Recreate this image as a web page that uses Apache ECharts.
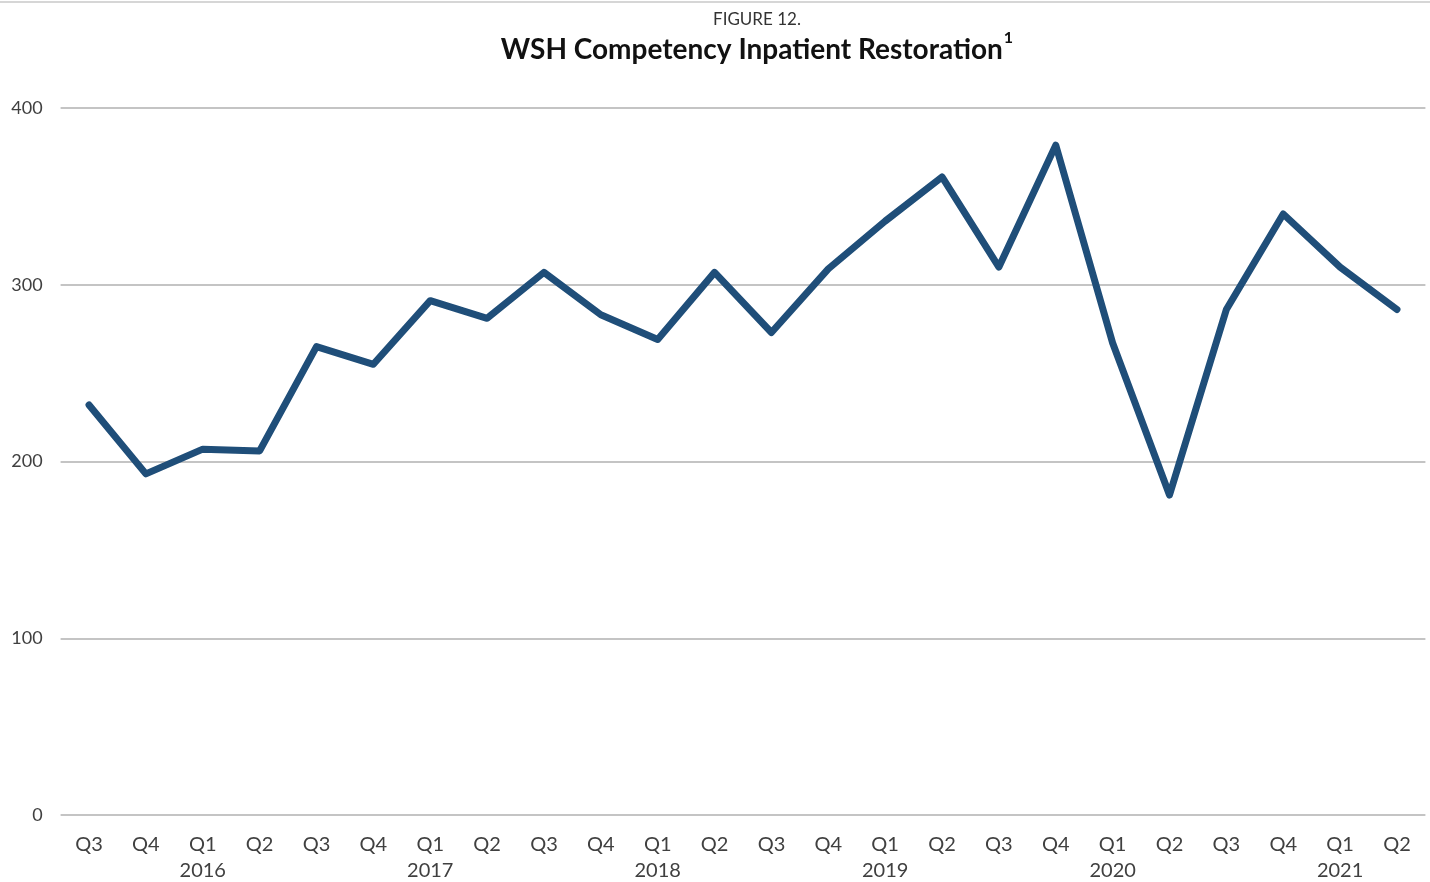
<!DOCTYPE html>
<html>
<head>
<meta charset="utf-8">
<script src="https://cdn.jsdelivr.net/npm/echarts@6/dist/echarts.min.js"></script>
<style>
html,body{margin:0;padding:0;background:#fff;}
#chart{width:1430px;height:882px;}
</style>
</head>
<body>
<div id="chart"></div>
<script>
const quarters = ['Q3','Q4','Q1','Q2','Q3','Q4','Q1','Q2','Q3','Q4','Q1','Q2','Q3','Q4','Q1','Q2','Q3','Q4','Q1','Q2','Q3','Q4','Q1','Q2'];
const yearLabels = ['','','2016','','','','2017','','','','2018','','','','2019','','','','2020','','','','2021',''];
const values = [232,193,207,206,265,255,291,281,307,283,269,307,273,309,336,361,310,379,267,181,286,340,310,286];
const yTicks = [0,100,200,300,400];

const categories = quarters.map((q, i) => q + (yearLabels[i] ? '\n' + yearLabels[i] : ''));

const chart = echarts.init(document.getElementById('chart'));
const font = 'Lato, "Open Sans", "Liberation Sans", sans-serif';
chart.setOption({
  animation: false,
  textStyle: { fontFamily: font },
  title: [
    {
      text: 'FIGURE 12.',
      left: 752, top: 6, textAlign: 'center',
      textStyle: { fontSize: 17, fontWeight: 'normal', color: '#333', fontFamily: font }
    },
    {
      text: '{m|WSH Competency Inpatient Restoration}{s|1}',
      left: 752, top: 25, textAlign: 'center',
      textStyle: {
        rich: {
          m: { fontSize: 28, fontWeight: 'bold', color: '#111', fontFamily: font, verticalAlign: 'bottom', lineHeight: 34 },
          s: { fontSize: 16, color: '#111', fontFamily: font, verticalAlign: 'top', padding: [0,0,16,1] }
        }
      }
    }
  ],
  graphic: [
    { type: 'line', shape: { x1: 0, y1: 2, x2: 1430, y2: 2 }, style: { stroke: '#c8c8c8', lineWidth: 1.5 } }
  ],
  grid: { left: 60.6, right: 4.6, top: 108, bottom: 67, outerBoundsMode: 'none', containLabel: false },
  xAxis: {
    type: 'category',
    data: categories,
    boundaryGap: true,
    axisLine: { show: false },
    axisTick: { show: false },
    axisLabel: { interval: 0, fontSize: 20, color: '#404040', lineHeight: 26, margin: 17, fontFamily: font }
  },
  yAxis: {
    type: 'value',
    min: yTicks[0], max: yTicks[yTicks.length - 1], interval: 100,
    axisLine: { show: false },
    axisTick: { show: false },
    axisLabel: { fontSize: 18, color: '#404040', margin: 18, fontFamily: font },
    splitLine: { lineStyle: { color: '#c4c4c4', width: 2 } }
  },
  series: [{
    type: 'line',
    data: values,
    showSymbol: false,
    symbol: 'none',
    lineStyle: { color: '#1f4e79', width: 7, join: 'round', cap: 'round' },
    itemStyle: { color: '#1f4e79' }
  }]
});
</script>
</body>
</html>
